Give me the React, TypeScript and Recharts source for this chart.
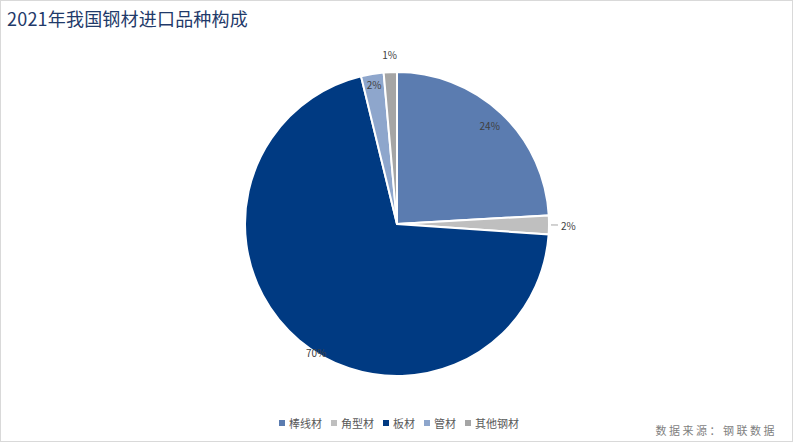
import { PieChart, Pie, Cell } from "recharts";

const categories = ["棒线材", "角型材", "板材", "管材", "其他钢材"];
const shares = [24.1, 2.0, 70.1, 2.4, 1.4];
const colors = ["#5B7CB0", "#BFBFBF", "#003A82", "#8EA6CC", "#A5A5A5"];

const title = "2021年我国钢材进口品种构成";
const source = "数据来源：钢联数据";

const data = categories.map((name, i) => ({ name, value: shares[i] }));

const RAD = Math.PI / 180;
const font = '"Noto Sans CJK SC", "Noto Sans", sans-serif';

// how each slice label sits: radius offset, angle shift, leader line
const labelPlacement = [
  { dr: -17, da: 0, line: false },
  { dr: 13, da: 0, line: true },
  { dr: 0, da: 8, line: false },
  { dr: -11, da: 0, line: false },
  { dr: 18, da: 0, line: false },
];

function renderLabel(props: any) {
  const { cx, cy, midAngle, outerRadius, percent, index } = props;
  const p = labelPlacement[index];
  const a = (midAngle + p.da) * RAD;
  const r = outerRadius + p.dr;
  const text = `${Math.round(percent * 100)}%`;
  if (p.line) {
    const x1 = cx + (outerRadius + 2) * Math.cos(a);
    const y1 = cy - (outerRadius + 2) * Math.sin(a);
    const x2 = cx + (outerRadius + 9) * Math.cos(a);
    const y2 = cy - (outerRadius + 9) * Math.sin(a);
    return (
      <g>
        <line x1={x1} y1={y1} x2={x2} y2={y2} stroke="#A6A6A6" strokeWidth={1} />
        <text x={x2 + 3} y={y2} fill="#404040" fontSize={10} fontFamily={font} dominantBaseline="central" textAnchor="start">
          {text}
        </text>
      </g>
    );
  }
  return (
    <text
      x={cx + r * Math.cos(a)}
      y={cy - r * Math.sin(a)}
      fill="#404040"
      fontSize={10}
      fontFamily={font}
      textAnchor="middle"
      dominantBaseline="central"
    >
      {text}
    </text>
  );
}

function LegendRow() {
  return (
    <div
      style={{
        position: "absolute",
        left: 0,
        width: 796,
        top: 414,
        display: "flex",
        justifyContent: "center",
        fontSize: 11,
        lineHeight: "16px",
        color: "#595959",
      }}
    >
      {categories.map((c, i) => (
        <div key={c} style={{ display: "flex", alignItems: "center", marginRight: i < categories.length - 1 ? 9 : 0 }}>
          <span style={{ width: 6, height: 6, background: colors[i], marginRight: 4, display: "inline-block" }} />
          <span>{c}</span>
        </div>
      ))}
    </div>
  );
}

export default function App() {
  return (
    <div
      style={{
        position: "absolute",
        left: 0,
        top: 0,
        width: 793,
        height: 442,
        boxSizing: "border-box",
        border: "1px solid #D9D9D9",
        background: "#fff",
        fontFamily: font,
      }}
    >
      <div
        style={{
          position: "absolute",
          left: 6,
          top: 4,
          fontSize: 18,
          letterSpacing: 0.2,
          color: "#1F3A6A",
          lineHeight: "26px",
        }}
      >
        {title}
      </div>
      <PieChart
        width={791}
        height={440}
        margin={{ top: 0, right: 0, bottom: 0, left: 0 }}
        style={{ position: "absolute", left: 0, top: 0 }}
      >
        <Pie
          data={data}
          dataKey="value"
          nameKey="name"
          cx={396}
          cy={223}
          outerRadius={152}
          startAngle={90}
          endAngle={-270}
          stroke="#fff"
          strokeWidth={2}
          label={renderLabel}
          labelLine={false}
          isAnimationActive={false}
        >
          {data.map((d, i) => (
            <Cell key={d.name} fill={colors[i]} />
          ))}
        </Pie>
      </PieChart>
      <LegendRow />
      <div
        style={{
          position: "absolute",
          right: 15,
          top: 421,
          fontSize: 11,
          letterSpacing: 2.5,
          color: "#7F7F7F",
          lineHeight: "16px",
        }}
      >
        {source}
      </div>
    </div>
  );
}
